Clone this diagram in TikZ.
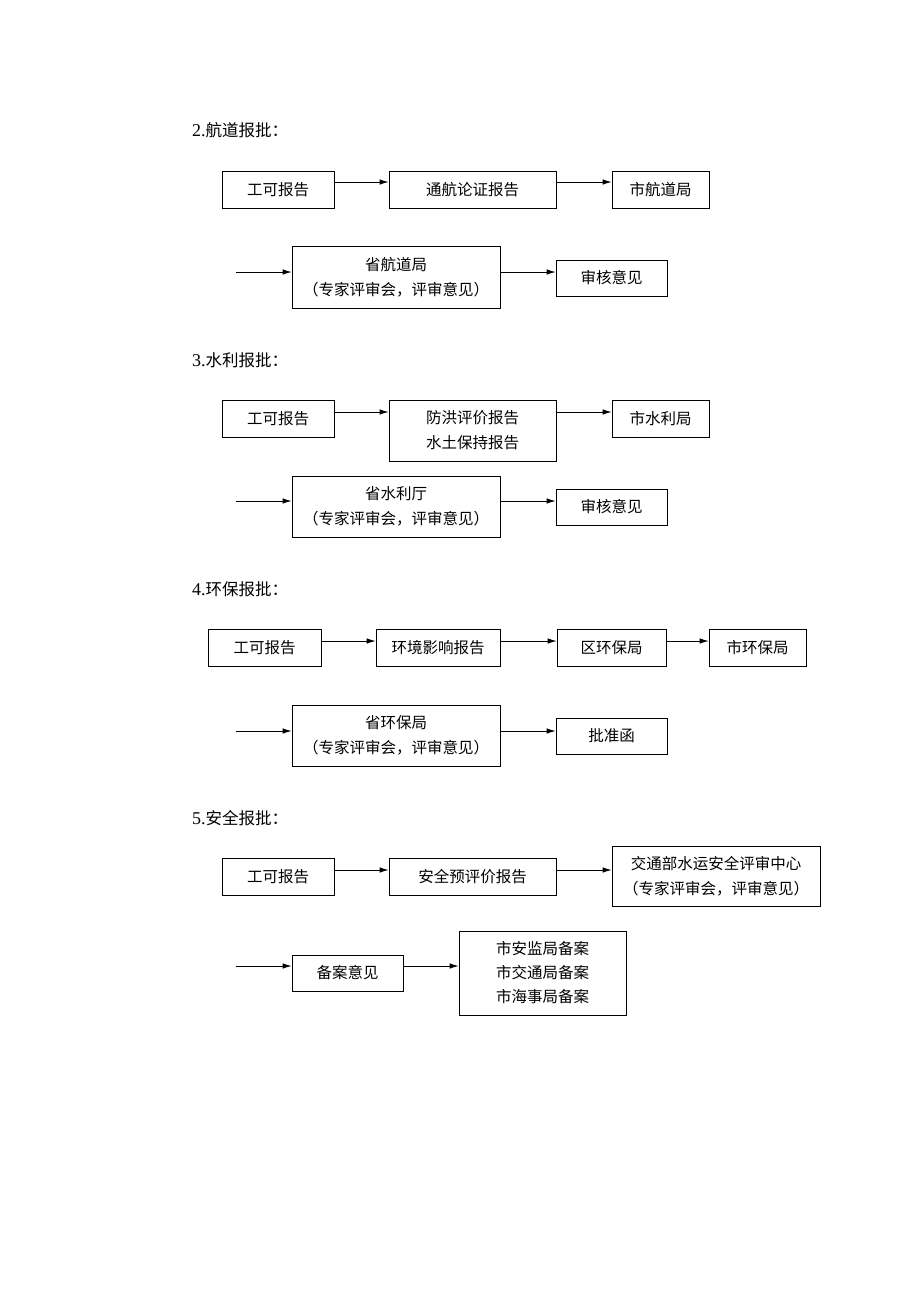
\documentclass[tikz,border=0pt]{standalone}
\usepackage{fontspec}
\newfontfamily\cjk{Noto Sans CJK SC}
\newfontfamily\digits{Liberation Serif}
\usetikzlibrary{arrows.meta}
\begin{document}
\begin{tikzpicture}[x=1pt,y=-1pt,
  box/.style={draw,line width=0.8pt,inner sep=0pt,align=center,
    font=\cjk\fontsize{15.5}{25}\selectfont},
  ttl/.style={anchor=west,inner sep=0pt,font=\fontsize{16.5}{20}\selectfont},
  arr/.style={line width=0.8pt,-{Latex[length=9pt,width=5.5pt]}}]
\useasboundingbox[fill=white] (0,0) rectangle (920,1302);

% Section 2
\node[ttl] (t2) at (192,130) {{\digits\fontsize{18}{20}\selectfont 2.}{\cjk 航道报批：}};
\node[box,minimum width=112pt,minimum height=37pt] (a1) at (278,189.5) {工可报告};
\node[box,minimum width=167pt,minimum height=37pt] (a2) at (472.5,189.5) {通航论证报告};
\node[box,minimum width=97pt,minimum height=37pt] (a3) at (660.5,189.5) {市航道局};
\node[box,minimum width=208pt,minimum height=62pt] (a4) at (396,277) {省航道局\\（专家评审会，评审意见）};
\node[box,minimum width=111pt,minimum height=36pt] (a5) at (611.5,278) {审核意见};
\coordinate (ya) at (0,182);
\coordinate (yb) at (0,272);
\coordinate (sa) at (236,272);
\draw[arr] (a1.east|-ya) -- (a2.west|-ya);
\draw[arr] (a2.east|-ya) -- (a3.west|-ya);
\draw[arr] (sa) -- (a4.west|-yb);
\draw[arr] (a4.east|-yb) -- (a5.west|-yb);

% Section 3
\node[ttl] (t3) at (192,360) {{\digits\fontsize{18}{20}\selectfont 3.}{\cjk 水利报批：}};
\node[box,minimum width=112pt,minimum height=37pt] (b1) at (278,418.5) {工可报告};
\node[box,minimum width=167pt,minimum height=61pt] (b2) at (472.5,430.5) {防洪评价报告\\水土保持报告};
\node[box,minimum width=97pt,minimum height=37pt] (b3) at (660.5,418.5) {市水利局};
\node[box,minimum width=208pt,minimum height=61pt] (b4) at (396,506.5) {省水利厅\\（专家评审会，评审意见）};
\node[box,minimum width=111pt,minimum height=36pt] (b5) at (611.5,507) {审核意见};
\coordinate (yc) at (0,412);
\coordinate (yd) at (0,501);
\coordinate (sb) at (236,501);
\draw[arr] (b1.east|-yc) -- (b2.west|-yc);
\draw[arr] (b2.east|-yc) -- (b3.west|-yc);
\draw[arr] (sb) -- (b4.west|-yd);
\draw[arr] (b4.east|-yd) -- (b5.west|-yd);

% Section 4
\node[ttl] (t4) at (192,589) {{\digits\fontsize{18}{20}\selectfont 4.}{\cjk 环保报批：}};
\node[box,minimum width=113pt,minimum height=37pt] (c1) at (264.5,647.5) {工可报告};
\node[box,minimum width=124pt,minimum height=37pt] (c2) at (438,647.5) {环境影响报告};
\node[box,minimum width=109pt,minimum height=37pt] (c3) at (611.5,647.5) {区环保局};
\node[box,minimum width=97pt,minimum height=37pt] (c4) at (757.5,647.5) {市环保局};
\node[box,minimum width=208pt,minimum height=61pt] (c5) at (396,735.5) {省环保局\\（专家评审会，评审意见）};
\node[box,minimum width=111pt,minimum height=36pt] (c6) at (611.5,736) {批准函};
\coordinate (ye) at (0,641);
\coordinate (yf) at (0,731);
\coordinate (sc) at (236,731);
\draw[arr] (c1.east|-ye) -- (c2.west|-ye);
\draw[arr] (c2.east|-ye) -- (c3.west|-ye);
\draw[arr] (c3.east|-ye) -- (c4.west|-ye);
\draw[arr] (sc) -- (c5.west|-yf);
\draw[arr] (c5.east|-yf) -- (c6.west|-yf);

% Section 5
\node[ttl] (t5) at (192,818) {{\digits\fontsize{18}{20}\selectfont 5.}{\cjk 安全报批：}};
\node[box,minimum width=112pt,minimum height=37pt] (d1) at (278,876.5) {工可报告};
\node[box,minimum width=167pt,minimum height=37pt] (d2) at (472.5,876.5) {安全预评价报告};
\node[box,minimum width=208pt,minimum height=60pt] (d3) at (716,876) {交通部水运安全评审中心\\（专家评审会，评审意见）};
\node[box,minimum width=111pt,minimum height=36pt] (d4) at (347.5,973) {备案意见};
\node[box,minimum width=167pt,minimum height=84pt,font=\cjk\fontsize{15.5}{24}\selectfont] (d5) at (542.5,973) {市安监局备案\\市交通局备案\\市海事局备案};
\coordinate (yg) at (0,870);
\coordinate (yh) at (0,966);
\coordinate (sd) at (236,966);
\draw[arr] (d1.east|-yg) -- (d2.west|-yg);
\draw[arr] (d2.east|-yg) -- (d3.west|-yg);
\draw[arr] (sd) -- (d4.west|-yh);
\draw[arr] (d4.east|-yh) -- (d5.west|-yh);
\end{tikzpicture}
\end{document}
